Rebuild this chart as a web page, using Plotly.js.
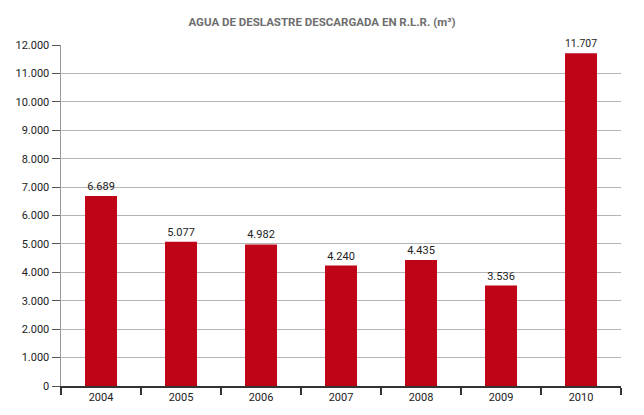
<!DOCTYPE html>
<html>
<head>
<meta charset="utf-8">
<script src="https://cdn.plot.ly/plotly-3.0.1.min.js"></script>
<style>
  html, body { margin: 0; padding: 0; background: #fff; }
  #chart { width: 644px; height: 415px; }
</style>
</head>
<body>
<div id="chart"></div>
<script>
// Ballast water discharged at the R.L.R. terminal, by year (m³)
const years = ["2004", "2005", "2006", "2007", "2008", "2009", "2010"];
const volumes = [6689, 5077, 4982, 4240, 4435, 3536, 11707];
const yTicks = [0, 1000, 2000, 3000, 4000, 5000, 6000, 7000, 8000, 9000, 10000, 11000, 12000];

const trace = {
  type: "bar",
  x: years,
  y: volumes,
  width: 0.4,
  marker: { color: "#c00418" },
  texttemplate: "%{y:,}",
  textposition: "outside",
  textfont: { family: "Roboto, sans-serif", size: 11, color: "#222" },
  cliponaxis: false,
  hoverinfo: "x+y"
};

const layout = {
  width: 644,
  height: 415,
  margin: { l: 61, r: 23, t: 45, b: 29 },
  paper_bgcolor: "#fff",
  plot_bgcolor: "#fff",
  separators: ",.",
  showlegend: false,
  title: {
    text: "<b>AGUA DE DESLASTRE DESCARGADA EN R.L.R. (m³)</b>",
    font: { family: "Roboto, sans-serif", size: 11.5, color: "#6e6e6e" },
    x: 0.5,
    xanchor: "center",
    y: 0.948,
    yanchor: "middle"
  },
  xaxis: {
    type: "category",
    tickson: "boundaries",
    ticks: "outside",
    ticklen: 7,
    tickwidth: 1.5,
    tickcolor: "#333",
    showline: true,
    linecolor: "#333",
    linewidth: 1.5,
    showgrid: false,
    tickfont: { family: "Roboto, sans-serif", size: 11, color: "#222" },
    fixedrange: true
  },
  yaxis: {
    range: [0, 12000],
    tickvals: yTicks,
    tickformat: ",d",
    ticks: "outside",
    ticklen: 8,
    tickcolor: "#555",
    showline: true,
    linecolor: "#999",
    linewidth: 1.5,
    showgrid: true,
    gridcolor: "#b5b5b5",
    gridwidth: 1,
    zeroline: false,
    tickfont: { family: "Roboto, sans-serif", size: 11, color: "#222" },
    fixedrange: true
  },
  bargap: 0.6
};

Plotly.newPlot("chart", [trace], layout, { displayModeBar: false, staticPlot: true });
</script>
</body>
</html>
